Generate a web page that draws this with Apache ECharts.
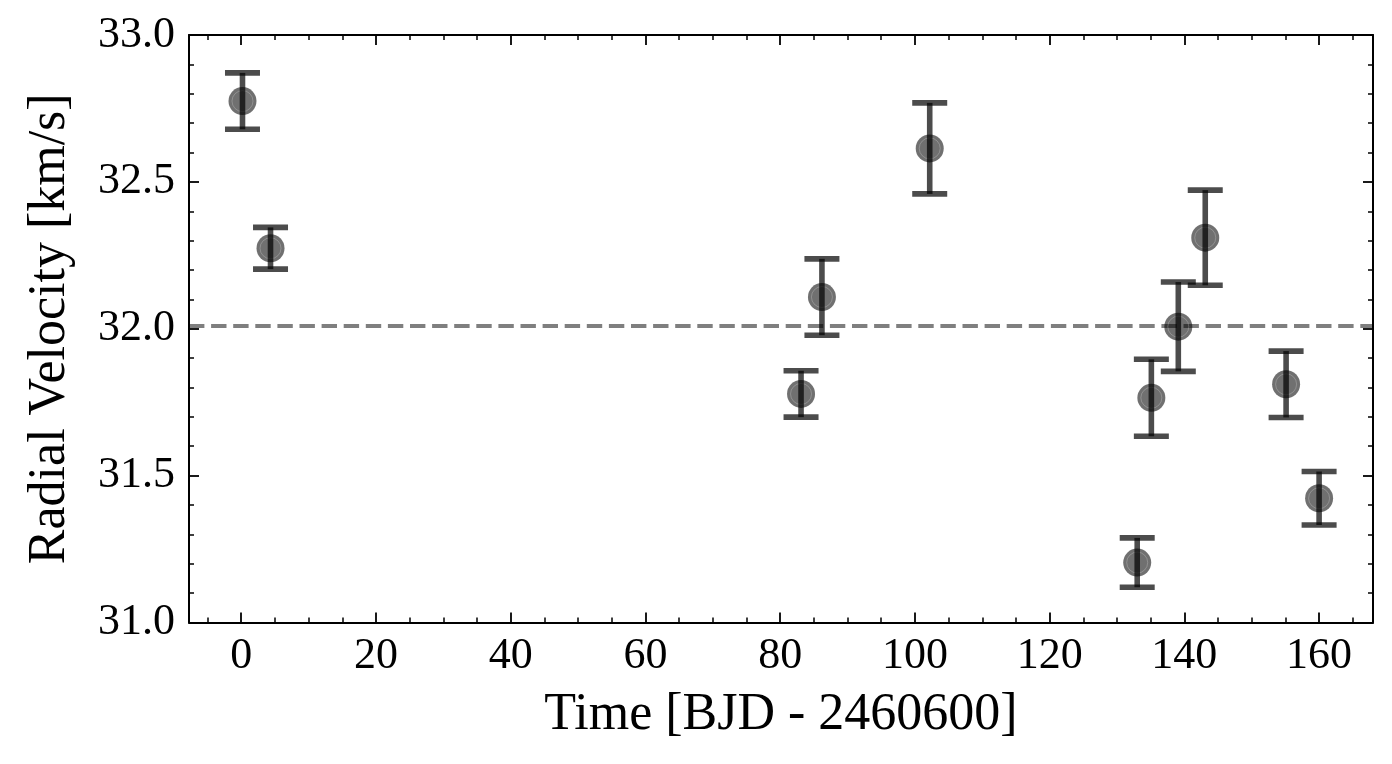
<!DOCTYPE html>
<html>
<head>
<meta charset="utf-8">
<script src="https://cdn.jsdelivr.net/npm/echarts@6/dist/echarts.min.js"></script>
<style>
html,body{margin:0;padding:0;background:#fff;}
#chart{width:1392px;height:764px;}
</style>
</head>
<body>
<div id="chart"></div>
<script>
// Observation times [BJD - 2460600]
const times = [0.19, 4.35, 83.1, 86.2, 102.2, 133.0, 135.1, 139.1, 143.1, 155.1, 160.0];
// Radial velocities [km/s]
const rvValues = [32.775, 32.274, 31.778, 32.108, 32.614, 31.204, 31.765, 32.007, 32.310, 31.811, 31.423];
// 1-sigma uncertainties [km/s]
const rvErrors = [0.096, 0.071, 0.079, 0.130, 0.155, 0.084, 0.131, 0.152, 0.162, 0.113, 0.091];
// Tick labels
const xTickValues = [0, 20, 40, 60, 80, 100, 120, 140, 160];
const xMinorTickValues = [-5, 5, 10, 15, 25, 30, 35, 45, 50, 55, 65, 70, 75, 85, 90, 95, 105, 110, 115, 125, 130, 135, 145, 150, 155, 165];
const yTickValues = [31.0, 31.5, 32.0, 32.5, 33.0];

const meanRV = rvValues.reduce((a, b) => a + b, 0) / rvValues.length;

const points = times.map((t, i) => [t, rvValues[i]]);
const errData = times.map((t, i) => [t, rvValues[i], rvErrors[i]]);

const FONT = '"Liberation Serif", "DejaVu Serif", serif';
const INK = 'rgba(0,0,0,0.7)';
const X_MIN = -7.75, X_MAX = 168.0;

const chart = echarts.init(document.getElementById('chart'), null, {renderer: 'canvas'});

const baseX = {
  type: 'value', min: X_MIN, max: X_MAX,
  splitLine: {show: false}
};
const baseY = {
  type: 'value', min: yTickValues[0], max: yTickValues[yTickValues.length - 1], interval: 0.5,
  splitLine: {show: false}
};

chart.setOption({
  animation: false,
  backgroundColor: '#ffffff',
  grid: {left: 189, right: 19, top: 35, bottom: 141.5, containLabel: false},
  xAxis: [
    Object.assign({}, baseX, {
      position: 'bottom',
      name: 'Time [BJD - 2460600]',
      nameLocation: 'middle',
      nameGap: 67,
      nameTextStyle: {fontFamily: FONT, fontSize: 52, color: '#000'},
      axisLine: {show: true, onZero: false, lineStyle: {color: '#000', width: 2}},
      axisTick: {show: true, inside: true, length: 10, customValues: xTickValues, lineStyle: {color: '#000', width: 1.8}},
      axisLabel: {show: true, customValues: xTickValues, margin: 12, fontFamily: FONT, fontSize: 44, color: '#000'}
    }),
    Object.assign({}, baseX, {
      position: 'bottom',
      axisLine: {show: false, onZero: false},
      axisTick: {show: true, inside: true, length: 5, customValues: xMinorTickValues, lineStyle: {color: '#000', width: 1.5}},
      axisLabel: {show: false}
    }),
    Object.assign({}, baseX, {
      position: 'top',
      axisLine: {show: true, onZero: false, lineStyle: {color: '#000', width: 2}},
      axisTick: {show: true, inside: true, length: 10, customValues: xTickValues, lineStyle: {color: '#000', width: 1.8}},
      axisLabel: {show: false}
    }),
    Object.assign({}, baseX, {
      position: 'top',
      axisLine: {show: false, onZero: false},
      axisTick: {show: true, inside: true, length: 5, customValues: xMinorTickValues, lineStyle: {color: '#000', width: 1.5}},
      axisLabel: {show: false}
    })
  ],
  yAxis: [
    Object.assign({}, baseY, {
      position: 'left',
      name: 'Radial Velocity [km/s]',
      nameLocation: 'middle',
      nameGap: 113,
      nameRotate: 90,
      nameTextStyle: {fontFamily: FONT, fontSize: 52, color: '#000'},
      axisLine: {show: true, onZero: false, lineStyle: {color: '#000', width: 2}},
      axisTick: {show: true, inside: true, length: 10, lineStyle: {color: '#000', width: 1.8}},
      minorTick: {show: true, splitNumber: 5, length: 5, lineStyle: {color: '#000', width: 1.5}},
      axisLabel: {show: true, margin: 14, fontFamily: FONT, fontSize: 44, color: '#000',
        formatter: v => v.toFixed(1)}
    }),
    Object.assign({}, baseY, {
      position: 'right',
      axisLine: {show: true, onZero: false, lineStyle: {color: '#000', width: 2}},
      axisTick: {show: true, inside: true, length: 10, lineStyle: {color: '#000', width: 1.8}},
      minorTick: {show: true, splitNumber: 5, length: 5, lineStyle: {color: '#000', width: 1.5}},
      axisLabel: {show: false}
    })
  ],
  series: [
    {
      type: 'scatter',
      xAxisIndex: 0, yAxisIndex: 0,
      data: points,
      symbol: 'circle',
      symbolSize: 28,
      z: 3,
      itemStyle: {color: INK, borderWidth: 0},
      markLine: {
        silent: true,
        symbol: ['none', 'none'],
        label: {show: false},
        lineStyle: {color: 'rgba(0,0,0,0.5)', width: 4, type: [15.4, 6.7]},
        data: [{yAxis: meanRV}]
      }
    },
    {
      type: 'custom',
      xAxisIndex: 0, yAxisIndex: 0,
      data: errData,
      clip: false,
      z: 5,
      renderItem: function (params, api) {
        const x = api.value(0), y = api.value(1), e = api.value(2);
        const c = api.coord([x, y]);
        const top = api.coord([x, y + e]);
        const bot = api.coord([x, y - e]);
        const cap = 17.5;
        const st = {stroke: INK, lineWidth: 5.6, lineCap: 'butt', fill: null};
        return {
          type: 'group',
          children: [
            {type: 'circle', shape: {cx: c[0], cy: c[1], r: 10.5},
              style: {stroke: 'rgba(255,255,255,0.22)', lineWidth: 1, fill: null}},
            {type: 'line', shape: {x1: top[0], y1: top[1], x2: bot[0], y2: bot[1]}, style: st},
            {type: 'line', shape: {x1: top[0] - cap, y1: top[1], x2: top[0] + cap, y2: top[1]}, style: st},
            {type: 'line', shape: {x1: bot[0] - cap, y1: bot[1], x2: bot[0] + cap, y2: bot[1]}, style: st}
          ]
        };
      }
    }
  ]
});
</script>
</body>
</html>
